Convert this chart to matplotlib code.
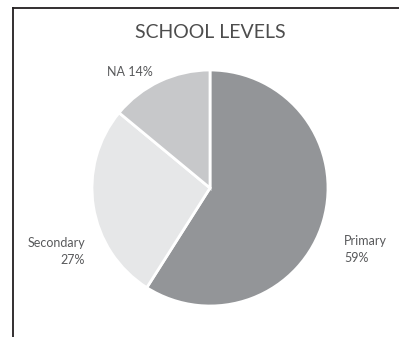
import matplotlib.pyplot as plt
from matplotlib.lines import Line2D

# data
levels = ["Primary", "Secondary", "NA"]
shares = [59, 27, 14]
colors = ["#939598", "#e6e7e8", "#c7c8ca"]
label_texts = ["Primary\n59%", "Secondary\n27%", "NA 14%"]

# label placement (data units, pie radius = 1)
label_pos = [(1.136, -0.52), (-1.06, -0.54), (-0.68, 0.98)]
label_ha = ["left", "right", "center"]

plt.rcParams['font.family'] = ['Lato', 'DejaVu Sans']

fig = plt.figure(figsize=(3.99, 3.37), dpi=100)
ax = fig.add_axes([0, 0, 1, 1])

wedges, texts = ax.pie(shares, colors=colors, labels=label_texts,
                       startangle=90, counterclock=False,
                       wedgeprops=dict(edgecolor="white", linewidth=2),
                       textprops=dict(fontsize=9, color="#58595b"))
for t, pos, ha in zip(texts, label_pos, label_ha):
    t.set_position(pos)
    t.set_ha(ha)
    t.set_va("center")
    t.set_multialignment(ha)
    t.set_linespacing(1.45)

ax.text(0, 1.32, "SCHOOL LEVELS", ha="center", va="center",
        fontsize=14, color="#4d4d4d")

# map center to pixel (210, 188), radius 118 px
r = 118.0
ax.set_xlim(-210 / r, (399 - 210) / r)
ax.set_ylim(-(337 - 188) / r, 188 / r)
ax.axis("off")

# frame: top and left only
fig.add_artist(Line2D([13 / 399, 1], [1 - 8 / 337, 1 - 8 / 337],
                      color="#231f20", linewidth=1.3))
fig.add_artist(Line2D([13 / 399, 13 / 399], [0, 1 - 8 / 337],
                      color="#231f20", linewidth=1.3))

fig.savefig("out.png", dpi=100)
